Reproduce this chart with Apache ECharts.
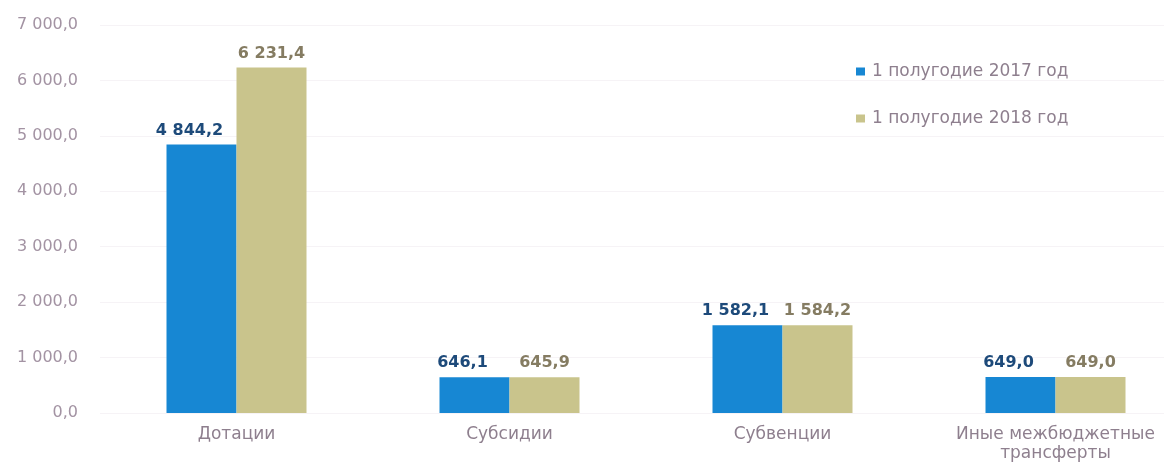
<!DOCTYPE html>
<html>
<head>
<meta charset="utf-8">
<script src="https://cdn.jsdelivr.net/npm/echarts@6/dist/echarts.min.js"></script>
<style>
  html, body { margin: 0; padding: 0; background: #fff; overflow: hidden; }
  #chart { width: 1192px; height: 463px; }
</style>
</head>
<body>
<div id="chart"></div>
<script>
const categories = ["Дотации", "Субсидии", "Субвенции", "Иные межбюджетные\nтрансферты"];
const series2017 = [4844.2, 646.1, 1582.1, 649.0];
const series2018 = [6231.4, 645.9, 1584.2, 649.0];
const seriesNames = ["1 полугодие 2017 год", "1 полугодие 2018 год"];

function fmt(v, digits) {
    let parts = Number(v).toFixed(digits).split(".");
    parts[0] = parts[0].replace(/\B(?=(\d{3})+(?!\d))/g, " ");
    return parts.join(",");
}

let chart = echarts.init(document.getElementById("chart"));
let font = "DejaVu Sans";

chart.setOption({
    animation: false,
    textStyle: { fontFamily: font },
    grid: { left: 100, right: 0, top: 25, bottom: 48 },
    legend: {
        orient: "vertical",
        left: 851,
        top: 58,
        itemGap: 30,
        itemWidth: 9,
        itemHeight: 8,
        icon: "rect",
        textStyle: { color: "#8e7f8e", fontSize: 17, fontFamily: font, padding: [0, 0, 0, 2] }
    },
    xAxis: {
        type: "category",
        data: categories,
        axisLine: { show: false },
        axisTick: { show: false },
        axisLabel: { color: "#8e7f8e", fontSize: 17, margin: 12, lineHeight: 19 }
    },
    yAxis: {
        type: "value",
        min: 0,
        max: 7000,
        interval: 1000,
        axisLine: { show: false },
        axisTick: { show: false },
        splitLine: { lineStyle: { color: "#f6f3f6" } },
        axisLabel: {
            color: "#a393a3",
            fontSize: 16,
            margin: 22,
            formatter: v => fmt(v, 1)
        }
    },
    series: [
        {
            name: seriesNames[0],
            type: "bar",
            data: series2017,
            barWidth: 70,
            barGap: "0%",
            itemStyle: { color: "#1787d3" },
            label: {
                show: true,
                position: "top",
                distance: 6,
                offset: [-12, 0],
                color: "#1d4a7a",
                fontWeight: "bold",
                fontSize: 16,
                formatter: p => fmt(p.value, 1)
            }
        },
        {
            name: seriesNames[1],
            type: "bar",
            data: series2018,
            barWidth: 70,
            barGap: "0%",
            itemStyle: { color: "#c9c48c" },
            label: {
                show: true,
                position: "top",
                distance: 6,
                color: "#857c62",
                fontWeight: "bold",
                fontSize: 16,
                formatter: p => fmt(p.value, 1)
            }
        }
    ]
});
</script>
</body>
</html>
